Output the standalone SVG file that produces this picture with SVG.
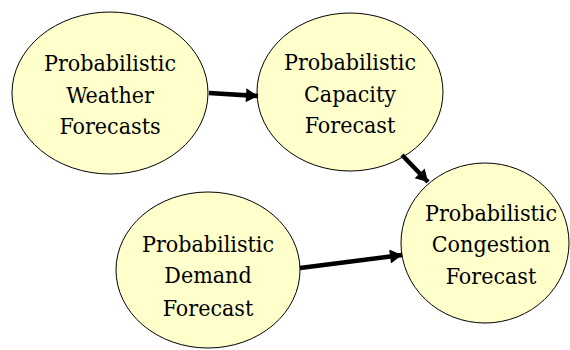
<svg xmlns="http://www.w3.org/2000/svg" width="570" height="350" viewBox="0 0 570 350">
<style>
.node ellipse{fill:#FFFFCC;stroke:#000;stroke-width:1}
.node text{font-family:"DejaVu Serif Condensed","DejaVu Serif",serif;font-size:23px;fill:#000;text-anchor:middle}
.edge{stroke:#000;stroke-width:4.5;fill:none;marker-end:url(#ah)}
</style>
<defs>
<marker id="ah" markerUnits="userSpaceOnUse" markerWidth="14" markerHeight="14" viewBox="0 0 12 14" refX="12" refY="7" orient="auto">
<path d="M0,0 L12,7 L0,14 Z" fill="#000"/>
</marker>
</defs>
<rect width="570" height="350" fill="#fff"/>
<g id="weather" class="node">
<ellipse cx="110" cy="93" rx="98" ry="81"/>
<text x="110" y="71">Probabilistic</text>
<text x="110" y="103">Weather</text>
<text x="110" y="134">Forecasts</text>
</g>
<g id="capacity" class="node">
<ellipse cx="350" cy="92" rx="93" ry="79"/>
<text x="350" y="70">Probabilistic</text>
<text x="350" y="102">Capacity</text>
<text x="350" y="133">Forecast</text>
</g>
<g id="demand" class="node">
<ellipse cx="208" cy="270" rx="92" ry="78"/>
<text x="208" y="252">Probabilistic</text>
<text x="208" y="283">Demand</text>
<text x="208" y="316">Forecast</text>
</g>
<g id="congestion" class="node">
<ellipse cx="485" cy="243" rx="84" ry="80"/>
<text x="491" y="221">Probabilistic</text>
<text x="491" y="252">Congestion</text>
<text x="491" y="284">Forecast</text>
</g>
<g id="connectors">
<line class="edge" x1="209" y1="93" x2="258" y2="96"/>
<line class="edge" x1="402" y1="155" x2="428" y2="182"/>
<line class="edge" x1="300" y1="268" x2="402" y2="255"/>
</g>
</svg>
